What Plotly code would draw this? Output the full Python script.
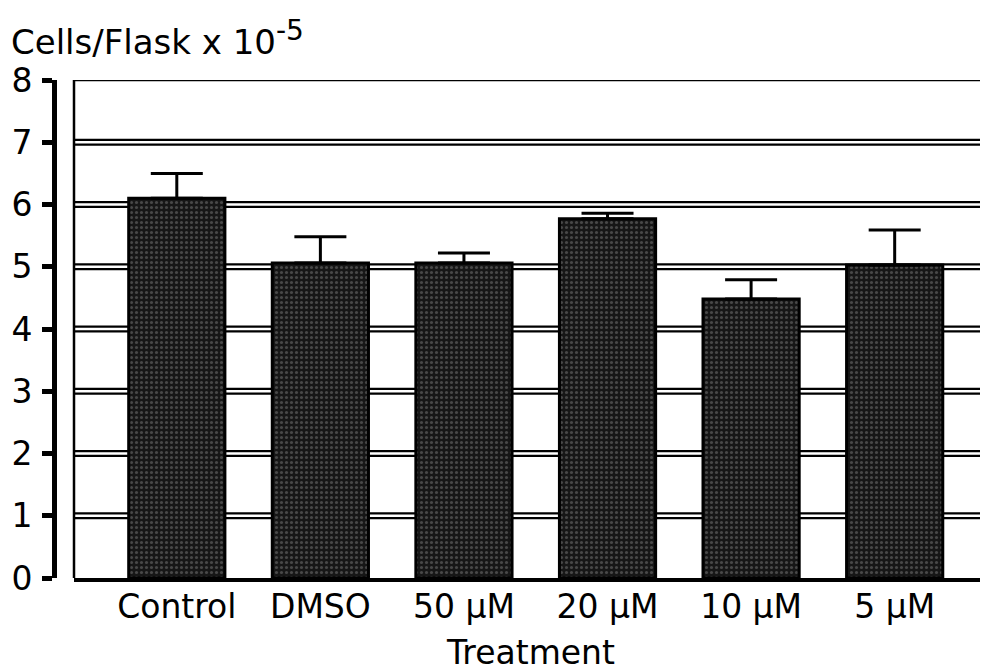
import plotly.graph_objects as go

treatments = ['Control', 'DMSO', '50 µM', '20 µM', '10 µM', '5 µM']
cells = [6.10, 5.06, 5.06, 5.77, 4.48, 5.03]
err_up = [0.40, 0.42, 0.16, 0.09, 0.31, 0.56]
grid_values = [1, 2, 3, 4, 5, 6, 7]
y_ticks = [0, 1, 2, 3, 4, 5, 6, 7, 8]

# the page body adds an 8px margin, so the figure is 8px smaller than the window
W, H = 980, 664
T, B = 72, 94
FONT = 'DejaVu Sans'

fig = go.Figure()

fig.add_trace(go.Bar(
    x=treatments,
    y=cells,
    marker=dict(
        color='#1c1c1c',
        line=dict(color='black', width=3),
        pattern=dict(shape='.', fgcolor='#7a7a7a', bgcolor='#161616', size=5, solidity=0.3),
    ),
    error_y=dict(type='data', symmetric=False, array=err_up, arrayminus=[0] * len(err_up),
                 color='black', thickness=3, width=26),
    width=0.67,
))

# double ruled gridlines: thick black line with a thin white line on top
shapes = []
for g in grid_values:
    shapes.append(dict(type='line', xref='x domain', yref='y', x0=0, x1=1, y0=g, y1=g,
                       line=dict(color='black', width=7), layer='below'))
    shapes.append(dict(type='line', xref='x domain', yref='y', x0=0, x1=1, y0=g, y1=g,
                       line=dict(color='white', width=2.5), layer='below'))
# frame: left and top edges
shapes.append(dict(type='line', xref='x domain', yref='y', x0=0, x1=0, y0=0, y1=8,
                   line=dict(color='black', width=2.5), layer='below'))
shapes.append(dict(type='line', xref='x domain', yref='y', x0=0, x1=1, y0=8, y1=8,
                   line=dict(color='black', width=2.5), layer='below'))

plot_h = H - T - B

fig.update_layout(
    width=W, height=H,
    margin=dict(l=0, r=0, t=T, b=B, autoexpand=False),
    plot_bgcolor='white', paper_bgcolor='white',
    showlegend=False,
    bargap=0.33,
    shapes=shapes,
    font=dict(family=FONT, color='black', size=33),
    xaxis=dict(
        domain=[66 / W, 1],
        range=[-0.716, 5.65],
        automargin=False,
        showline=True, linecolor='black', linewidth=4,
        showgrid=False, ticks='', ticklabelstandoff=-4,
        tickfont=dict(size=33),
        title=dict(text='Treatment', font=dict(size=33), standoff=18),
    ),
    yaxis=dict(
        anchor='free', position=46 / W,
        range=[0, 8],
        automargin=False,
        tickvals=y_ticks,
        showline=True, linecolor='black', linewidth=5,
        ticks='outside', ticklen=10, tickwidth=5, tickcolor='black',
        showgrid=False, zeroline=False,
        ticklabelstandoff=3,
        tickfont=dict(size=33),
    ),
    annotations=[dict(
        text='Cells/Flask x 10<sup><span style="font-size:28px">-5</span></sup>',
        xref='paper', yref='paper', x=1 / W, y=1 + (T - 4) / plot_h,
        xanchor='left', yanchor='top', showarrow=False,
        font=dict(size=34),
    )],
)

fig.write_html('out.html')
